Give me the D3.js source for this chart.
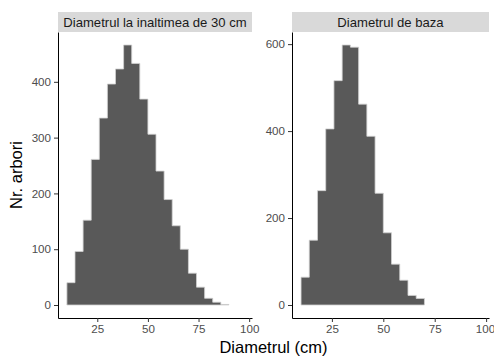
<!DOCTYPE html>
<html>
<head>
<meta charset="utf-8">
<script src="https://cdn.jsdelivr.net/npm/d3@7"></script>
<style>
  body { margin: 0; background: #fff; }
  svg { display: block; font-family: "Liberation Sans", Arial, sans-serif; }
</style>
</head>
<body>
<svg id="chart" width="494" height="357"></svg>
<script>
'use strict';

// ── Data (bins of 4 cm) ───────────────────────────────────────────────────
const panelTitles = ['Diametrul la inaltimea de 30 cm', 'Diametrul de baza'];
const binStarts30 = [10, 14, 18, 22, 26, 30, 34, 38, 42, 46, 50, 54, 58, 62, 66, 70, 74, 78, 82, 86];
const counts30    = [40, 96, 152, 261, 335, 396, 423, 466, 433, 369, 306, 240, 189, 142, 100, 57, 32, 12, 5, 1];
const binStartsB  = [10, 14, 18, 22, 26, 30, 34, 38, 42, 46, 50, 54, 58, 62, 66];
const countsB     = [64, 149, 263, 405, 516, 598, 593, 462, 388, 257, 166, 94, 57, 22, 15];
const binWidth    = 4;
const xTicks      = [25, 50, 75, 100];
const yTicks30    = [0, 100, 200, 300, 400];
const yTicksB     = [0, 200, 400, 600];

const svg = d3.select('#chart');

// ── Layout ────────────────────────────────────────────────────────────────
const PANEL_TOP = 32, PANEL_BOT = 318, STRIP_H = 20;
const panels = [
  { left: 58,  right: 252, starts: binStarts30, counts: counts30, ticks: yTicks30, title: panelTitles[0] },
  { left: 292, right: 489, starts: binStartsB,  counts: countsB,  ticks: yTicksB,  title: panelTitles[1] }
];

const xDomain = [5.6, 101.4];

function styleAxis(ax) {
  ax.select('.domain').attr('stroke', '#000').attr('stroke-width', 1);
  ax.selectAll('.tick line').attr('stroke', '#333');
  ax.selectAll('text').attr('fill', '#4d4d4d').attr('font-size', '11.6px')
    .attr('font-family', '"Liberation Sans", Arial, sans-serif');
}

panels.forEach((p, pi) => {
  const x = d3.scaleLinear().domain(xDomain).range([p.left, p.right]);
  const maxC = d3.max(p.counts);
  const y = d3.scaleLinear().domain([-maxC * 0.05, maxC * 1.05]).range([PANEL_BOT, PANEL_TOP]);
  const bins = p.starts.map((s, i) => ({ s, c: p.counts[i] }));

  const g = svg.append('g');

  // Strip
  g.append('rect')
    .attr('x', p.left).attr('y', PANEL_TOP - STRIP_H)
    .attr('width', p.right - p.left).attr('height', STRIP_H)
    .attr('fill', '#d9d9d9');
  g.append('text')
    .attr('x', (p.left + p.right) / 2).attr('y', PANEL_TOP - STRIP_H / 2 + 4.7)
    .attr('text-anchor', 'middle')
    .attr('font-size', '13.1px')
    .attr('fill', '#1a1a1a')
    .text(p.title);

  // Histogram drawn as one stepped shape (no seams between bins)
  const pts = [[x(bins[0].s), y(0)]];
  bins.forEach(d => {
    pts.push([x(d.s), y(d.c)]);
    pts.push([x(d.s + binWidth), y(d.c)]);
  });
  pts.push([x(bins[bins.length - 1].s + binWidth), y(0)]);
  g.append('path')
    .attr('d', d3.line()(pts) + 'Z')
    .attr('fill', '#595959')
    .attr('stroke', '#d0d0d0')
    .attr('stroke-width', 0.8);

  // Axes
  const xAxis = d3.axisBottom(x).tickValues(xTicks).tickSize(4).tickPadding(3).tickSizeOuter(0);
  const yAxis = d3.axisLeft(y).tickValues(p.ticks).tickSize(4).tickPadding(3).tickSizeOuter(0);

  g.append('g')
    .attr('transform', `translate(0,${PANEL_BOT})`)
    .call(xAxis)
    .call(styleAxis)
    .call(ax => {
      if (pi === 1) ax.selectAll('.tick text').filter(d => d === 100).attr('dx', '-1.2');
    });

  g.append('g')
    .attr('transform', `translate(${p.left},0)`)
    .call(yAxis)
    .call(styleAxis);
});

// ── Axis titles ───────────────────────────────────────────────────────────
svg.append('text')
  .attr('x', (58 + 489) / 2).attr('y', 353)
  .attr('text-anchor', 'middle')
  .attr('font-size', '16.5px')
  .attr('fill', '#000')
  .text('Diametrul (cm)');

svg.append('text')
  .attr('transform', `translate(22,${(PANEL_TOP + PANEL_BOT) / 2}) rotate(-90)`)
  .attr('text-anchor', 'middle')
  .attr('font-size', '16.5px')
  .attr('fill', '#000')
  .text('Nr. arbori');
</script>
</body>
</html>
